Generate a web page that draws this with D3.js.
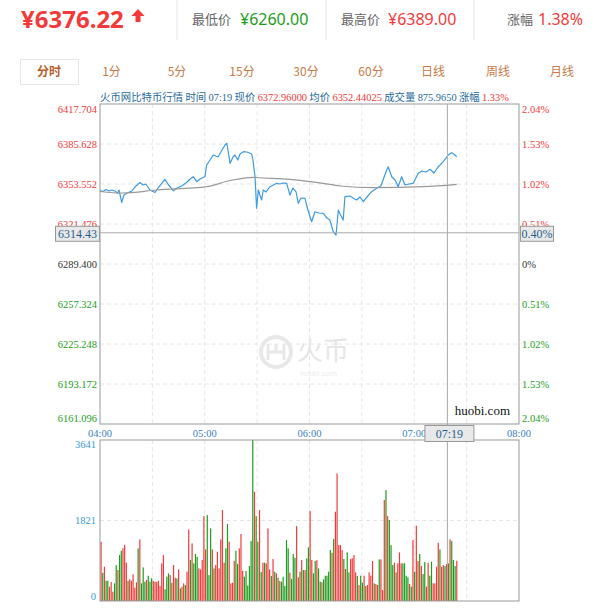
<!DOCTYPE html>
<html><head><meta charset="utf-8">
<script src="https://cdn.jsdelivr.net/npm/d3@7"></script>
<style>body{margin:0;background:#fff;}svg{display:block;}</style>
</head><body><svg id="c" width="600" height="616"></svg>
<script>
// ---------- data ----------
const lastPrice = '¥6376.22';
const statLabels = ['最低价', '最高价', '涨幅'];
const statValues = ['¥6260.00', '¥6389.00', '1.38%'];
const tabs = ['分时', '1分', '5分', '15分', '30分', '60分', '日线', '周线', '月线'];
const basePrice = 6289.4;
const priceTicks = [6417.704, 6385.628, 6353.552, 6321.476, 6289.400, 6257.324, 6225.248, 6193.172, 6161.096];
const pctTicks = ['2.04%', '1.53%', '1.02%', '0.51%', '0%', '0.51%', '1.02%', '1.53%', '2.04%'];
const timeTicks = ['04:00', '05:00', '06:00', '07:00', '08:00'];
const volTicks = [0, 1821, 3641];
// minutes after 04:00 and price
const priceTimes = [0,1.7,3.4,5.2,6.9,8.6,10.1,10.9,12.4,13.7,15.5,18.3,20.6,22.9,24.6,26.3,28.6,31.5,33.2,35.5,37.2,38.9,42,44.1,46.8,49.7,51.5,53.4,55.4,57.3,60.1,61.1,63,64.9,67.6,69.9,71.6,72.6,73.3,74.5,76.2,77.3,79,80.2,82.1,84.2,86.9,87.6,88.8,89.7,90.7,91.6,92.6,93.5,95.1,97.4,101.2,103.1,104.8,106.9,108.8,110.5,112.3,113.6,115.1,117.4,119.1,121.2,123.1,125.4,127.9,130,131.7,133.6,135.2,136.5,137.5,139.3,140.3,143.2,144.9,147,148.9,150.8,152.9,155.6,158.5,160.9,164.2,165.1,167.1,169,170.8,172.8,174.7,177,179.4,182.3,184.4,186.7,189,191.3,193.8,196.6,199.5,201.4,202.7,204.3];
const prices = [6348.34,6347.54,6349.14,6347.94,6348.74,6347.94,6346.09,6348.74,6338.72,6344.73,6346.33,6347.94,6351.95,6354.76,6352.75,6353.55,6348.74,6346.73,6350.34,6354.35,6357.32,6353.55,6348.18,6350.34,6351.95,6354.92,6357.32,6359.40,6355.39,6357.56,6359.40,6368.78,6372.80,6376.81,6375.20,6380.81,6384.82,6386.19,6380.81,6370.15,6375.20,6376.81,6372.80,6377.61,6379.45,6379.21,6377.61,6372.80,6359.40,6334.06,6348.74,6344.73,6340.72,6348.74,6347.14,6351.39,6354.11,6353.55,6354.35,6354.11,6344.73,6350.34,6347.14,6338.07,6342.32,6342.08,6332.70,6323.32,6331.34,6330.30,6330.06,6326.28,6324.68,6315.30,6312.65,6332.70,6329.49,6324.68,6343.36,6343.93,6342.32,6340.72,6343.12,6339.35,6343.12,6347.37,6350.10,6351.95,6364.78,6367.42,6359.40,6356.76,6351.39,6359.40,6352.75,6353.55,6354.11,6362.13,6363.97,6363.17,6365.34,6362.37,6367.42,6371.43,6376.81,6378.65,6377.61,6375.44];
const avgTimes = [0,13.2,32.5,61.1,74.5,87.8,89.3,108.8,127.9,137.5,156.5,185.2,204.3];
const avgPrices = [6347.54,6346.33,6348.74,6351.39,6356.36,6358.92,6358.76,6357.32,6354.11,6351.95,6350.58,6351.39,6353.31];
const volumes = [1340,640,776,459,459,324,429,211,399,813,700,1039,1137,1190,1265,866,452,489,459,602,301,422,1190,1393,399,760,437,474,572,437,512,452,437,429,459,339,851,1039,264,550,625,587,414,813,527,512,715,286,324,399,361,663,1619,926,1303,851,1062,1002,738,715,926,1920,1167,1943,587,1642,1167,738,813,1114,
738,1393,2056,866,1190,1740,1340,399,414,911,1137,836,1190,1514,685,550,678,346,791,1355,
3641,2470,1920,1340,2056,655,866,866,851,1642,715,565,949,663,625,527,452,437,550,339,
1378,1190,640,497,1062,979,1694,535,663,926,700,700,964,1212,2033,926,625,904,926,738,
437,422,489,572,572,663,1152,1092,1401,2018,2884,1265,1265,1152,949,723,1099,648,949,964,
1039,648,565,361,572,414,572,339,361,648,572,904,399,384,361,941,941,248,2282,2507,
1920,1830,1265,813,866,648,851,1099,851,851,851,572,535,384,324,1378,663,1702,904,1062,
791,610,881,324,866,572,889,399,399,776,1318,1167,776,813,791,836,851,1393,1355,926,791,911];
const volDir = ('rgrggrrrgg'+'rggrrrgrrr'+'rrgrgggrgg'+'grrrrrrrgg'+'grgrrgrgrr'+'grrgrgggrr'+'rrrgggrgrr'+
  'rrrrggrrrr'+'ggrrrggggg'+'grggrgrgrr'+'rgrgrgrggg'+'ggrgggrrgr'+'grggrrggrg'+'grgggggrgr'+
  'rrrrgrggrr'+'rrgrggrgrr'+'rrgrrgrrrg'+'rgggrgrrrg'+'gggrgrgrrg'+'rggrrggrrr'+'rgrrgrgrgg'+'gr').split('');
const volSpanMinutes = 205;
const cursor = {time: '07:19', minute: 199, price: '6314.43', priceVal: 6314.43, pct: '0.40%'};
const title = [['火币网比特币行情 时间 ','l'],['07:19','ln'],[' 现价 ','l'],['6372.96000','v'],[' 均价 ','l'],['6352.44025','v'],[' 成交量 ','l'],['875.9650','ln'],[' 涨幅 ','l'],['1.33%','v']];

// ---------- drawing ----------
const RED = '#f23a3a', GREEN = '#1b9e1b', CJK = '"Noto Sans CJK SC", sans-serif', SERIF = '"Liberation Serif", serif';
const svg = d3.select('#c');
const L = 100, R = 519, T = 104, B = 424, VT = 440, VB = 601;
const x = d3.scaleLinear().domain([0, 240]).range([L, R]);
const y = d3.scaleLinear().domain([priceTicks[8], priceTicks[0]]).range([B, T]);
const yv = d3.scaleLinear().domain([0, volTicks[2]]).range([VB, VT]);

// header
svg.append('text').attr('x', 21).attr('y', 28).attr('fill', RED).attr('font-family', '"Noto Sans", sans-serif')
  .attr('font-weight', 'bold').attr('font-size', 24).text(lastPrice);
svg.append('path').attr('d', 'M138,9 L131.5,16 L135.5,16 L135.5,22 L140.5,22 L140.5,16 L144.5,16 Z').attr('fill', RED);
[177, 326, 474].forEach(sx => svg.append('line').attr('x1', sx).attr('x2', sx).attr('y1', 0).attr('y2', 40).attr('stroke', '#e6e6e6'));
const statX = [[192, 240], [341, 388], [507, 538]];
const statCol = [GREEN, RED, RED];
statLabels.forEach((s, i) => {
  svg.append('text').attr('x', statX[i][0]).attr('y', 24).attr('fill', '#666').attr('font-family', CJK).attr('font-size', 13).text(s);
  svg.append('text').attr('x', statX[i][1]).attr('y', 25).attr('fill', statCol[i]).attr('font-family', '"Noto Sans", sans-serif').attr('font-size', 16).text(statValues[i]);
});
// tabs
svg.append('rect').attr('x', 20.5).attr('y', 59.5).attr('width', 58).attr('height', 25).attr('fill', '#fff').attr('stroke', '#e6e6e6');
const tabX = [49, 111.5, 177, 242, 306, 371, 433, 498, 562];
tabs.forEach((t, i) => svg.append('text').attr('x', tabX[i]).attr('y', 76).attr('text-anchor', 'middle')
  .attr('fill', i === 0 ? '#b8602a' : '#c97a45').attr('font-weight', i === 0 ? 'bold' : 'normal')
  .attr('font-family', CJK).attr('font-size', 12).text(t));

// title
const tt = svg.append('text').attr('x', 100).attr('y', 101).attr('font-size', 10.4);
title.forEach(([s, k]) => tt.append('tspan').attr('fill', k === 'v' ? RED : '#1f6b9c')
  .attr('font-family', (k === 'l') ? CJK : SERIF).text(s));

// watermark
const wm = svg.append('g');
wm.append('circle').attr('cx', 276).attr('cy', 352).attr('r', 15).attr('fill', 'none').attr('stroke', '#e8e8e8').attr('stroke-width', 4);
wm.append('path').attr('d', 'M268,344 L268,360 M284,344 L284,360 M268,352 L284,352 M276,344 L276,352')
  .attr('fill', 'none').attr('stroke', '#e8e8e8').attr('stroke-width', 3);
wm.append('text').attr('x', 297).attr('y', 360).attr('fill', '#e6e6e6').attr('font-family', CJK).attr('font-size', 26).text('火币');
wm.append('text').attr('x', 300).attr('y', 376).attr('fill', '#ececec').attr('font-family', 'Arial, sans-serif').attr('font-size', 8).text('huobi.com');

// grids
const gridMin = d3.range(30, 240, 30);
const grid = svg.append('g').attr('stroke', '#e6e6e6').attr('stroke-dasharray', '4,3');
gridMin.forEach(m => {
  grid.append('line').attr('x1', x(m)).attr('x2', x(m)).attr('y1', T).attr('y2', B);
  grid.append('line').attr('x1', x(m)).attr('x2', x(m)).attr('y1', VT).attr('y2', VB);
});
priceTicks.slice(1, 8).forEach(p => grid.append('line').attr('x1', L).attr('x2', R).attr('y1', y(p)).attr('y2', y(p)));
grid.append('line').attr('x1', L).attr('x2', R).attr('y1', yv(volTicks[1])).attr('y2', yv(volTicks[1]));

// price labels
priceTicks.forEach((p, i) => {
  const col = p > basePrice + 0.01 ? RED : (p < basePrice - 0.01 ? GREEN : '#333');
  const yy = y(p) + (i === 0 ? 9 : (i === 8 ? -2 : 3.5));
  svg.append('text').attr('x', 97).attr('y', yy).attr('text-anchor', 'end').attr('fill', col)
    .attr('font-family', SERIF).attr('font-size', 10.5).text(p.toFixed(3));
  svg.append('text').attr('x', 522).attr('y', yy).attr('fill', col)
    .attr('font-family', SERIF).attr('font-size', 10.5).text(pctTicks[i]);
});
// time labels
timeTicks.forEach((t, i) => svg.append('text').attr('x', x(i * 60)).attr('y', 437).attr('text-anchor', 'middle')
  .attr('fill', '#3b82bd').attr('font-family', SERIF).attr('font-size', 10.5).text(t));
// volume labels
volTicks.forEach((v, i) => svg.append('text').attr('x', 96).attr('y', yv(v) + (i === 2 ? 8 : (i === 0 ? -1 : 4)))
  .attr('text-anchor', 'end').attr('fill', '#3a9ad9').attr('font-family', SERIF).attr('font-size', 10.5).text(v));

// volume bars
svg.append('g').selectAll('rect').data(volumes).join('rect')
  .attr('x', (d, i) => x(0.6 + i * volSpanMinutes / (volumes.length - 1) * 0.994) - 0.6)
  .attr('width', 1.2)
  .attr('y', d => yv(d)).attr('height', d => VB - yv(d))
  .attr('fill', (d, i) => volDir[i] === 'g' ? GREEN : RED);

// lines
const pts = priceTimes.map((t, i) => [t, prices[i]]);
svg.append('path').attr('d', d3.line().x(d => x(d[0])).y(d => y(d[1]))(pts))
  .attr('fill', 'none').attr('stroke', '#3d9be2').attr('stroke-width', 1.2).attr('stroke-linejoin', 'round');
const apts = avgTimes.map((t, i) => [t, avgPrices[i]]);
svg.append('path').attr('d', d3.line().curve(d3.curveMonotoneX).x(d => x(d[0])).y(d => y(d[1]))(apts))
  .attr('fill', 'none').attr('stroke', '#999').attr('stroke-width', 1.2);

// frames
svg.append('rect').attr('x', L).attr('y', T).attr('width', R - L).attr('height', B - T).attr('fill', 'none').attr('stroke', '#999');
svg.append('rect').attr('x', L).attr('y', VT).attr('width', R - L).attr('height', VB - VT).attr('fill', 'none').attr('stroke', '#999');

// crosshair
const cx = x(cursor.minute);
const cy = y(cursor.priceVal);
svg.append('line').attr('x1', L).attr('x2', R).attr('y1', cy).attr('y2', cy).attr('stroke', '#aaa');
svg.append('line').attr('x1', cx).attr('x2', cx).attr('y1', T).attr('y2', VB).attr('stroke', '#aaa');
svg.append('text').attr('x', 510).attr('y', 415).attr('text-anchor', 'end').attr('fill', '#111')
  .attr('font-family', SERIF).attr('font-size', 13).text('huobi.com');
function box(x0, y0, w, h, s) {
  svg.append('rect').attr('x', x0 + 0.5).attr('y', y0 + 0.5).attr('width', w).attr('height', h).attr('fill', '#e9e9e9').attr('stroke', '#999');
  svg.append('text').attr('x', x0 + w / 2 + 0.5).attr('y', y0 + h / 2 + 4.5).attr('text-anchor', 'middle')
    .attr('fill', '#1f5f8f').attr('font-family', SERIF).attr('font-size', 12).text(s);
}
box(55, cy - 7, 44, 15, cursor.price);
box(520, cy - 7, 33, 15, cursor.pct);
box(cx - 23, B + 1, 49, 16, cursor.time);
</script></body></html>
